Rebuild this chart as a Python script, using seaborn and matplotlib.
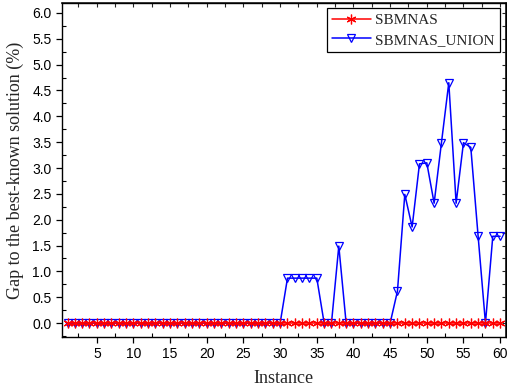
import matplotlib
matplotlib.use("Agg")
import matplotlib.pyplot as plt
import seaborn as sns
import numpy as np
import pandas as pd
from matplotlib.ticker import MultipleLocator

sns.set_theme(style="ticks")
plt.rcParams["font.family"] = ["Liberation Sans", "DejaVu Sans"]

instances = list(range(1, 61))
sbmnas = [0.0] * 60
sbmnas_union = (
    [0.0] * 30
    + [0.87, 0.87, 0.87, 0.87, 0.87]          # 31-35
    + [0.0, 0.0, 1.49, 0.0, 0.0]              # 36-40
    + [0.0, 0.0, 0.0, 0.0, 0.0]               # 41-45
    + [0.62, 2.49, 1.86, 3.08, 3.10]          # 46-50
    + [2.32, 3.49, 4.65, 2.32, 3.49]          # 51-55
    + [3.40, 1.68, 0.0, 1.68, 1.68]           # 56-60
)

df = pd.DataFrame({
    "Instance": instances * 2,
    "Gap": sbmnas + sbmnas_union,
    "Method": ["SBMNAS"] * 60 + ["SBMNAS_UNION"] * 60,
})

fig = plt.figure(figsize=(5.07, 3.87), dpi=100)
ax = fig.add_axes([0.122, 0.129, 0.876, 0.863])

sns.lineplot(data=df[df.Method == "SBMNAS_UNION"], x="Instance", y="Gap",
             color="#0000ff", lw=1.1, marker="v", markersize=6,
             markerfacecolor="none", markeredgecolor="#0000ff",
             markeredgewidth=0.9, ax=ax, label="SBMNAS_UNION", zorder=2)
sns.lineplot(data=df[df.Method == "SBMNAS"], x="Instance", y="Gap",
             color="#ff0000", lw=1.1, marker=(6, 2, 0), markersize=7,
             markeredgecolor="#ff0000", markeredgewidth=0.9,
             ax=ax, label="SBMNAS", zorder=3)

ax.set_xlim(0.23, 60.8)
ax.set_ylim(-0.27, 6.19)
ax.set_xticks(range(5, 61, 5))
ax.xaxis.set_minor_locator(MultipleLocator(2.5))
yt = np.arange(0, 6.01, 0.5)
ax.set_yticks(yt)
ax.set_yticklabels([f"{v:.1f}" for v in yt])
ax.yaxis.set_minor_locator(MultipleLocator(0.25))

ax.tick_params(axis="both", which="major", direction="out", length=4,
               width=0.9, labelsize=10, colors="black")
ax.tick_params(axis="both", which="minor", direction="in", length=3,
               width=0.8, colors="black")
ax.tick_params(top=False, right=False, which="both")
for sp in ax.spines.values():
    sp.set_linewidth(1.0)
    sp.set_color("black")

# inward ticks on the opposite frame edges
top = ax.secondary_xaxis("top")
top.set_xticks(np.arange(0, 61, 2.5))
top.tick_params(direction="in", length=3, width=0.8, labeltop=False)
right = ax.secondary_yaxis("right")
right.set_yticks(np.arange(0, 6.2, 0.25))
right.tick_params(direction="in", length=3, width=0.8, labelright=False)

serif = ["Liberation Serif", "DejaVu Serif"]
ax.set_xlabel("Instance", family=serif, fontsize=13, labelpad=6)
ax.set_ylabel("Gap to the best-known solution (%)", family=serif,
              fontsize=13, labelpad=6)

handles, labels = ax.get_legend_handles_labels()
order = [labels.index("SBMNAS"), labels.index("SBMNAS_UNION")]
leg = ax.legend([handles[i] for i in order], [labels[i] for i in order],
                loc="upper right", bbox_to_anchor=(0.99, 0.99),
                prop={"family": serif, "size": 11}, frameon=True,
                fancybox=False, edgecolor="black", framealpha=1,
                handlelength=2.5, borderpad=0.35, labelspacing=0.4,
                handletextpad=0.3, borderaxespad=0.1)
leg.get_frame().set_linewidth(0.9)

fig.savefig("out.png", dpi=100)
